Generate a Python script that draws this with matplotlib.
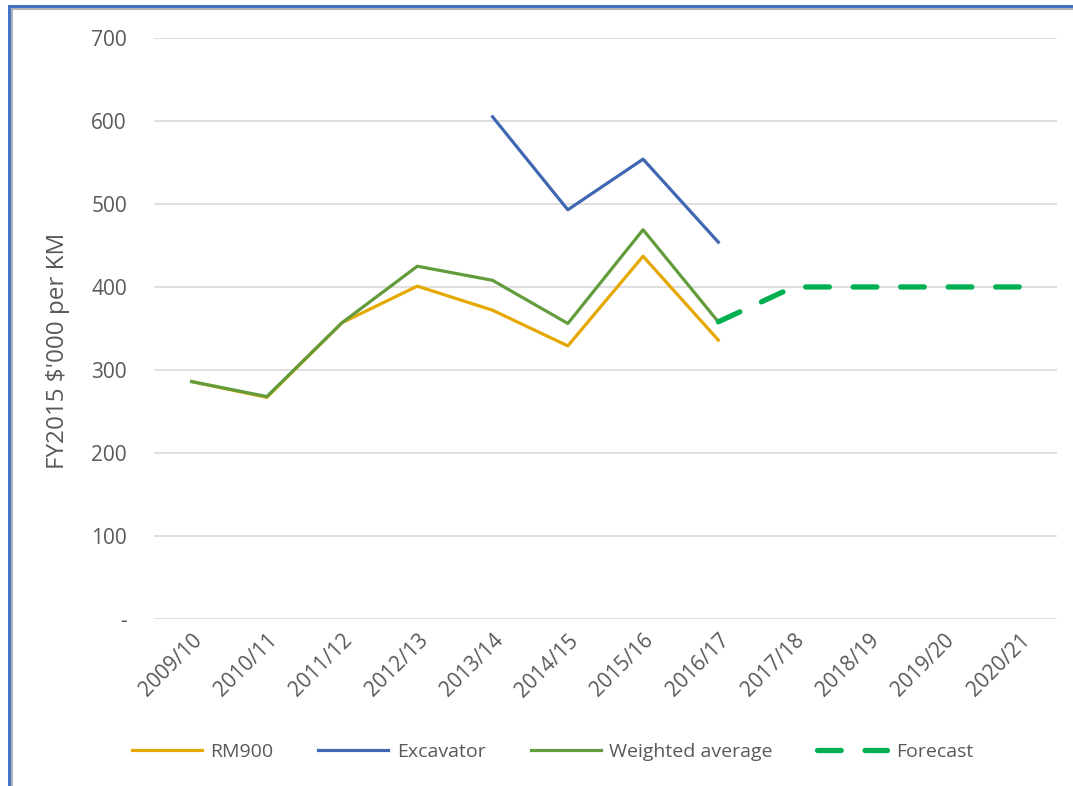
import matplotlib.pyplot as plt
from matplotlib.patches import Rectangle
from matplotlib.transforms import ScaledTranslation
import numpy as np

plt.rcParams['font.family'] = ['Open Sans', 'DejaVu Sans']

years = ['2009/10', '2010/11', '2011/12', '2012/13', '2013/14', '2014/15',
         '2015/16', '2016/17', '2017/18', '2018/19', '2019/20', '2020/21']
rm900 = [286, 267, 357, 401, 372, 329, 437, 336]
excavator = [None, None, None, None, 605, 493, 554, 454]
weighted = [286, 268, 357, 425, 408, 356, 469, 358]
forecast = [None, None, None, None, None, None, None, 358, 400, 400, 400, 400]

text_col = '#595959'
fs = 15

fig = plt.figure(figsize=(10.73, 7.86), dpi=100)
ax = fig.add_axes([0.1435, 0.2125, 0.8415, 0.7392])

x = np.arange(len(years))

def to_arr(vals):
    return np.array([np.nan if v is None else v for v in vals], dtype=float)

ax.plot(x[:len(rm900)], to_arr(rm900), color='#E5A800', lw=2.3, label='RM900')
ax.plot(x[:len(excavator)], to_arr(excavator), color='#4068B2', lw=2.3, label='Excavator')
ax.plot(x[:len(weighted)], to_arr(weighted), color='#629C3C', lw=2.3, label='Weighted average')
ax.plot(x, to_arr(forecast), color='#00B050', lw=3.8, ls=(0, (4.5, 4.5)),
        solid_capstyle='round', dash_capstyle='round', label='Forecast')

ax.set_xlim(-0.5, len(years) - 0.5)
ax.set_ylim(0, 700)
ax.set_yticks(range(0, 701, 100))
ax.set_yticklabels(['-'] + [str(v) for v in range(100, 701, 100)])
ax.set_xticks(x)
ax.set_xticklabels(years, rotation=45, ha='right', rotation_mode='anchor')
shift = ScaledTranslation(5 / 100, -2 / 100, fig.dpi_scale_trans)
for lab in ax.get_xticklabels():
    lab.set_transform(lab.get_transform() + shift)

ax.grid(axis='y', color='#D9D9D9', lw=1.2)
ax.set_axisbelow(True)
for s in ax.spines.values():
    s.set_visible(False)
ax.tick_params(axis='both', length=0, colors=text_col, labelsize=fs)
ax.tick_params(axis='y', pad=19.5)
ax.tick_params(axis='x', pad=8)

ax.set_ylabel("FY2015 $'000 per KM", color=text_col, fontsize=17.5)
ax.yaxis.set_label_coords(-0.093, 0.461)

fig.legend(loc='center', bbox_to_anchor=(0.515, 0.043), ncol=4, frameon=False,
           fontsize=14, labelcolor=text_col, handlelength=3.6, columnspacing=2.3,
           handletextpad=0.45)

# outer frame seen at top-left of the picture (blue edge with a grey inner line)
fig.patches.append(Rectangle((0.0112, -0.1), 1.1, 1.089, transform=fig.transFigure,
                             fill=False, edgecolor='#A6A6A6', lw=1.2))
fig.patches.append(Rectangle((0.0085, -0.1), 1.1, 1.092, transform=fig.transFigure,
                             fill=False, edgecolor='#4472C4', lw=2.2))

fig.savefig('out.png', dpi=100)
